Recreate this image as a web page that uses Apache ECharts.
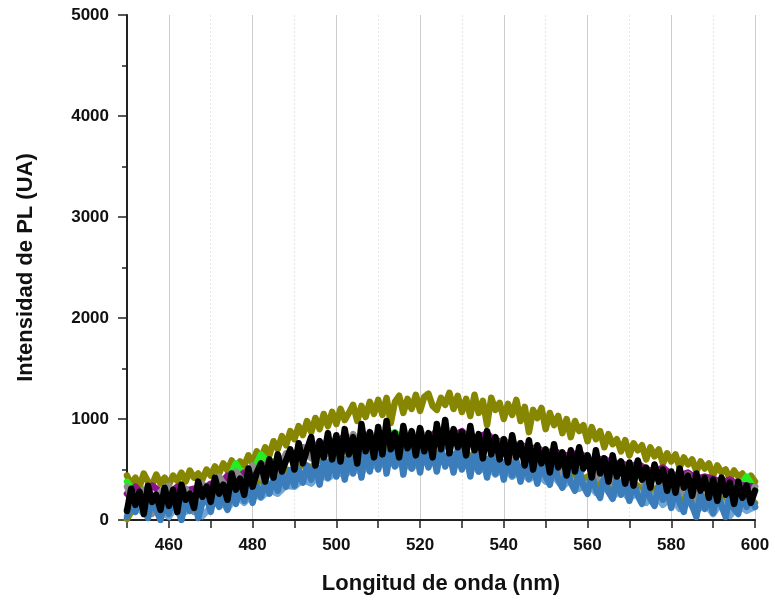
<!DOCTYPE html>
<html>
<head>
<meta charset="utf-8">
<title>Espectros de PL</title>
<script src="https://cdn.jsdelivr.net/npm/echarts@6/dist/echarts.min.js"></script>
<style>
  html, body { margin: 0; padding: 0; background: #ffffff; }
  #chart { width: 775px; height: 600px; }
</style>
</head>
<body>
<div id="chart"></div>
<script>
// Wavelength sampling (nm)
const wlStart = 450;
const wlEnd = 600;

// Intensity spectra (UA), 1 nm step from 450 to 600 nm
const olive = [
  440, 350, 420, 330, 460, 380, 350, 450, 360, 420,
  350, 440, 390, 470, 380, 490, 420, 460, 400, 500,
  440, 530, 460, 560, 490, 590, 510, 580, 540, 640,
  560, 680, 610, 720, 640, 780, 700, 830, 740, 880,
  800, 930, 840, 980, 870, 1010, 900, 1050, 930, 1070,
  950, 1100, 990, 1060, 1140, 980, 1130, 1020, 1170, 1050,
  1190, 1040, 1210, 960, 1170, 1230, 1060, 1200, 1100, 1240,
  1080, 1220, 1250, 1130, 1090, 1210, 1140, 1260, 1100, 1230,
  1070, 1200, 1030, 1240, 1060, 1180, 940, 1210, 1090, 1160,
  1000, 1150, 1040, 1190, 980, 1120, 870, 1090, 1010, 1110,
  900, 1060, 940, 1030, 860, 1000, 820, 980, 880, 940,
  780, 920, 800, 880, 720, 850, 750, 800, 680, 790,
  640, 760, 690, 740, 600, 720, 630, 700, 560, 660,
  580, 650, 520, 620, 550, 600, 480, 580, 510, 560,
  440, 540, 470, 500, 410, 490, 430, 460, 370, 440,
  380
];

const black = [
  90, 310, 150, 280, 60, 340, 180, 250, 100, 320,
  140, 300, 80, 350, 200, 260, 120, 380, 230, 330,
  180, 420, 260, 350, 200, 460, 300, 410, 250, 510,
  330, 470, 560, 380, 600, 420, 650, 480, 590, 700,
  500, 760, 560, 700, 820, 540, 780, 620, 860, 600,
  840, 580, 900, 650, 820, 560, 950, 680, 870, 620,
  920, 650, 980, 700, 860, 620, 930, 710, 880, 640,
  910, 680, 860, 620, 950, 700, 990, 660, 900, 720,
  870, 640, 930, 690, 850, 610, 880, 650, 820, 600,
  800, 570, 840, 620, 760, 540, 790, 500, 740, 560,
  700, 470, 750, 520, 670, 440, 690, 480, 720, 510,
  640, 420, 690, 460, 610, 380, 640, 430, 580, 360,
  570, 340, 590, 400, 520, 320, 550, 380, 500, 290,
  480, 270, 510, 320, 440, 240, 460, 290, 420, 220,
  400, 190, 420, 250, 370, 160, 380, 220, 340, 170,
  290
];

const blue = [
  30, 210, 80, 240, 120, 20, 220, 100, 0, 190,
  60, 250, 120, 0, 200, 90, 260, 20, 170, 230,
  80, 270, 130, 250, 100, 300, 160, 320, 190, 350,
  170, 340, 230, 390, 260, 420, 290, 460, 330, 490,
  340, 500, 370, 540, 400, 580, 350, 600, 420, 630,
  430, 660, 400, 640, 460, 700, 420, 720, 480, 750,
  500, 770, 460, 710, 530, 760, 450, 730, 510, 700,
  470, 740, 520, 680, 480, 720, 530, 670, 470, 700,
  500, 670, 430, 690, 480, 640, 420, 660, 460, 610,
  400, 640, 440, 590, 380, 610, 410, 550, 360, 570,
  430, 350, 560, 400, 320, 520, 370, 290, 490, 340,
  260, 460, 300, 220, 440, 280, 210, 420, 250, 370,
  190, 390, 240, 160, 360, 210, 140, 350, 200, 310,
  120, 320, 170, 80, 290, 140, 30, 260, 110, 230,
  70, 280, 140, 30, 250, 110, 60, 270, 130, 240,
  130
];

// Intensity spectra (UA), 2 nm step from 450 to 600 nm
const olive2 = [
  10, 150, 80, 200, 120, 240, 160, 190, 230, 270,
  250, 310, 280, 360, 330, 400, 380, 450, 420, 500,
  480, 550, 520, 600, 570, 640, 590, 660, 620, 680,
  640, 700, 650, 690, 620, 680, 640, 660, 610, 650,
  600, 640, 560, 600, 510, 570, 430, 520, 480, 540,
  460, 510, 420, 470, 380, 430, 340, 400, 310, 370,
  280, 340, 250, 310, 220, 290, 200, 260, 170, 230,
  150, 210, 130, 190, 110, 170
];

const green = [
  380, 260, 300, 240, 280, 260, 250, 300, 280, 320,
  340, 400, 380, 560, 430, 480, 650, 560, 600, 620,
  640, 700, 680, 740, 700, 780, 720, 800, 760, 780,
  760, 820, 870, 800, 760, 780, 800, 760, 820, 780,
  760, 780, 720, 740, 700, 690, 660, 680, 620, 640,
  600, 620, 580, 560, 560, 540, 520, 500, 480, 470,
  460, 440, 420, 420, 400, 380, 360, 350, 340, 330,
  320, 310, 300, 320, 430, 300
];

const purple = [
  260, 330, 240, 340, 280, 260, 330, 290, 310, 300,
  360, 340, 440, 400, 470, 500, 480, 580, 540, 620,
  660, 720, 650, 780, 700, 740, 840, 760, 790, 810,
  780, 860, 800, 820, 790, 850, 810, 880, 820, 840,
  880, 800, 820, 860, 770, 790, 730, 750, 700, 720,
  660, 690, 640, 640, 670, 600, 590, 610, 550, 570,
  520, 560, 500, 480, 520, 450, 440, 470, 410, 430,
  410, 370, 400, 350, 340, 330
];

const gray = [
  330, 120, 300, 60, 280, 340, 150, 310, 80, 360,
  250, 430, 300, 480, 360, 540, 420, 590, 480, 660,
  560, 720, 610, 770, 650, 820, 680, 850, 700, 870,
  690, 880, 700, 860, 680, 900, 710, 870, 730, 880,
  680, 850, 640, 820, 600, 800, 570, 760, 530, 730,
  480, 700, 450, 660, 420, 640, 400, 600, 360, 560,
  330, 540, 300, 500, 280, 470, 250, 450, 200, 420,
  190, 410, 160, 380, 140, 330
];

const lightBlue = [
  100, 160, 60, 190, 90, 30, 150, 80, 120, 40,
  130, 200, 110, 240, 170, 270, 220, 300, 260, 340,
  330, 400, 360, 450, 410, 480, 440, 520, 470, 560,
  520, 600, 540, 580, 510, 600, 550, 620, 560, 590,
  520, 580, 480, 540, 450, 520, 430, 490, 400, 460,
  380, 430, 330, 400, 310, 360, 270, 330, 230, 300,
  210, 280, 170, 250, 150, 230, 110, 190, 80, 170,
  60, 180, 40, 150, 90, 130
];

// Tick label values on the wavelength axis
const xTickLabels = [460, 480, 500, 520, 540, 560, 580, 600];

// Pair a spectrum with its wavelength grid
function toPoints(values) {
  const step = (wlEnd - wlStart) / (values.length - 1);
  return values.map((v, i) => [wlStart + i * step, v]);
}

// Drawing order: first entry is at the back
const layers = [
  { name: 'S1', data: olive, color: '#868600' },
  { name: 'S2', data: olive2, color: '#8a8a0a' },
  { name: 'S3', data: green, color: '#22ee22' },
  { name: 'S4', data: purple, color: '#8a148a' },
  { name: 'S5', data: gray, color: '#8c8c8c' },
  { name: 'S6', data: lightBlue, color: '#6fa6d6' },
  { name: 'S7', data: blue, color: '#3a7dba' },
  { name: 'S8', data: black, color: '#000000' }
];

const fontFamily = 'Liberation Sans, Arial, sans-serif';
const axisColor = '#222222';

const chart = echarts.init(document.getElementById('chart'), null, { renderer: 'canvas' });

chart.setOption({
  animation: false,
  backgroundColor: '#ffffff',
  grid: { left: 127, right: 20, top: 15, bottom: 77, containLabel: false },
  xAxis: [
    {
      type: 'value',
      min: wlStart,
      max: wlEnd,
      interval: 10,
      name: 'Longitud de onda (nm)',
      nameLocation: 'middle',
      nameGap: 53,
      nameTextStyle: { fontFamily, fontSize: 22, fontWeight: 'bold', color: '#111' },
      axisLine: { show: true, onZero: false, lineStyle: { color: axisColor, width: 2 } },
      axisTick: { show: true, inside: false, length: 8, lineStyle: { color: axisColor, width: 1.5 } },
      axisLabel: {
        fontFamily, fontSize: 17, fontWeight: 'bold', color: '#111', margin: 17,
        formatter: (v) => (xTickLabels.indexOf(v) >= 0 ? String(v) : '')
      },
      splitLine: { show: true, lineStyle: { color: ['rgba(0,0,0,0)', '#cdcdcd'], width: 1 } }
    },
    {
      type: 'value',
      min: wlStart,
      max: wlEnd,
      interval: 10,
      position: 'bottom',
      axisLine: { show: false },
      axisTick: { show: false },
      axisLabel: { show: false },
      splitLine: { show: true, lineStyle: { color: ['#e6e6e6', 'rgba(0,0,0,0)'], width: 1, type: [2, 2] } }
    }
  ],
  yAxis: {
    type: 'value',
    min: 0,
    max: 5000,
    interval: 1000,
    name: 'Intensidad de PL (UA)',
    nameLocation: 'middle',
    nameGap: 90,
    nameTextStyle: { fontFamily, fontSize: 22, fontWeight: 'bold', color: '#111' },
    axisLine: { show: true, lineStyle: { color: axisColor, width: 2 } },
    axisTick: { show: true, inside: false, length: 9, lineStyle: { color: axisColor, width: 1.5 } },
    minorTick: { show: true, splitNumber: 2, length: 5, lineStyle: { color: axisColor, width: 1.5 } },
    axisLabel: {
      fontFamily, fontSize: 17, fontWeight: 'bold', color: '#111', margin: 18,
      formatter: (v) => String(v)
    },
    splitLine: { show: false }
  },
  series: layers.map((s) => ({
    name: s.name,
    type: 'line',
    xAxisIndex: 0,
    data: toPoints(s.data),
    showSymbol: false,
    symbol: 'none',
    clip: true,
    lineStyle: { color: s.color, width: 6.5, join: 'round', cap: 'round' },
    itemStyle: { color: s.color },
    emphasis: { disabled: true }
  }))
});
</script>
</body>
</html>
